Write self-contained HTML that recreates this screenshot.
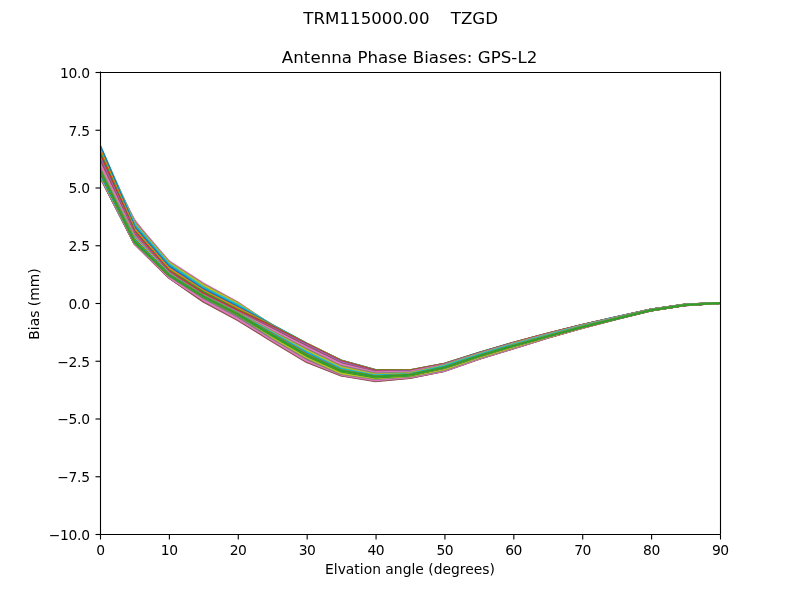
<!DOCTYPE html>
<html lang="en">
<head>
<meta charset="utf-8">
<title>TRM115000.00 TZGD - Antenna Phase Biases: GPS-L2</title>
<style>
html,body{margin:0;padding:0;background:#fff;}
body{width:800px;height:600px;overflow:hidden;}
svg{display:block;}
text{font-family:"DejaVu Sans","Liberation Sans",sans-serif;fill:#000;}
.t10{font-size:13.889px;}
.t12{font-size:16.667px;}
.ln{fill:none;stroke-width:2.0833;stroke-linejoin:round;stroke-linecap:square;}
.sp{stroke:#000;stroke-width:1.111;fill:none;stroke-linecap:square;}
.tk{stroke:#000;stroke-width:1.111;fill:none;}
</style>
</head>
<body>
<svg width="800" height="600" viewBox="0 0 800 600">
<rect x="0" y="0" width="800" height="600" fill="#ffffff"/>
<defs><clipPath id="axclip"><rect x="100" y="72" width="620" height="462"/></clipPath></defs>
<g clip-path="url(#axclip)">
<polyline class="ln" stroke="#1f77b4" points="100.00,169.95 134.44,241.10 168.89,274.80 203.33,296.40 237.78,314.15 272.22,334.80 306.67,354.90 341.11,370.60 375.56,376.60 410.00,374.75 444.44,367.60 478.89,356.10 513.33,345.70 547.78,336.20 582.22,326.90 616.67,318.40 651.11,310.20 685.56,305.00 720.00,303.00"/>
<polyline class="ln" stroke="#ff7f0e" points="100.00,170.57 134.44,241.28 168.89,274.99 203.33,296.75 237.78,314.54 272.22,335.24 306.67,355.38 341.11,370.93 375.56,376.90 410.00,374.96 444.44,367.83 478.89,356.29 513.33,345.89 547.78,336.30 582.22,326.97 616.67,318.43 651.11,310.21 685.56,305.01 720.00,303.00"/>
<polyline class="ln" stroke="#2ca02c" points="100.00,171.20 134.44,241.46 168.89,275.19 203.33,297.09 237.78,314.93 272.22,335.68 306.67,355.86 341.11,371.25 375.56,377.20 410.00,375.18 444.44,368.07 478.89,356.49 513.33,346.07 547.78,336.40 582.22,327.03 616.67,318.47 651.11,310.23 685.56,305.01 720.00,303.00"/>
<polyline class="ln" stroke="#d62728" points="100.00,171.82 134.44,241.64 168.89,275.38 203.33,297.44 237.78,315.32 272.22,336.12 306.67,356.34 341.11,371.58 375.56,377.50 410.00,375.39 444.44,368.30 478.89,356.68 513.33,346.26 547.78,336.50 582.22,327.10 616.67,318.50 651.11,310.24 685.56,305.02 720.00,303.00"/>
<polyline class="ln" stroke="#9467bd" points="100.00,172.45 134.44,241.82 168.89,275.57 203.33,297.79 237.78,315.71 272.22,336.56 306.67,356.82 341.11,371.91 375.56,377.80 410.00,375.60 444.44,368.53 478.89,356.87 513.33,346.45 547.78,336.60 582.22,327.17 616.67,318.53 651.11,310.25 685.56,305.03 720.00,303.00"/>
<polyline class="ln" stroke="#8c564b" points="100.00,173.07 134.44,242.00 168.89,275.77 203.33,298.13 237.78,316.10 272.22,337.00 306.67,357.30 341.11,372.23 375.56,378.10 410.00,375.82 444.44,368.77 478.89,357.07 513.33,346.63 547.78,336.70 582.22,327.23 616.67,318.57 651.11,310.27 685.56,305.03 720.00,303.00"/>
<polyline class="ln" stroke="#e377c2" points="100.00,173.70 134.44,242.18 168.89,275.96 203.33,298.48 237.78,316.49 272.22,337.44 306.67,357.78 341.11,372.56 375.56,378.40 410.00,376.03 444.44,369.00 478.89,357.26 513.33,346.82 547.78,336.80 582.22,327.30 616.67,318.60 651.11,310.28 685.56,305.04 720.00,303.00"/>
<polyline class="ln" stroke="#7f7f7f" points="100.00,174.32 134.44,242.36 168.89,276.15 203.33,298.83 237.78,316.88 272.22,337.88 306.67,358.26 341.11,372.89 375.56,378.70 410.00,376.24 444.44,369.23 478.89,357.45 513.33,347.01 547.78,336.90 582.22,327.37 616.67,318.63 651.11,310.29 685.56,305.05 720.00,303.00"/>
<polyline class="ln" stroke="#bcbd22" points="100.00,174.95 134.44,242.54 168.89,276.35 203.33,299.17 237.78,317.27 272.22,338.32 306.67,358.74 341.11,373.21 375.56,379.00 410.00,376.46 444.44,369.47 478.89,357.65 513.33,347.19 547.78,337.00 582.22,327.43 616.67,318.67 651.11,310.31 685.56,305.05 720.00,303.00"/>
<polyline class="ln" stroke="#17becf" points="100.00,175.27 134.44,242.72 168.89,276.54 203.33,299.52 237.78,317.66 272.22,338.76 306.67,359.22 341.11,373.54 375.56,379.30 410.00,376.67 444.44,369.70 478.89,357.84 513.33,347.38 547.78,337.10 582.22,327.50 616.67,318.70 651.11,310.32 685.56,305.06 720.00,303.00"/>
<polyline class="ln" stroke="#1f77b4" points="100.00,175.60 134.44,242.90 168.89,276.73 203.33,299.87 237.78,318.05 272.22,339.20 306.67,359.70 341.11,373.87 375.56,379.60 410.00,376.88 444.44,369.93 478.89,358.03 513.33,347.57 547.78,337.20 582.22,327.57 616.67,318.73 651.11,310.33 685.56,305.07 720.00,303.00"/>
<polyline class="ln" stroke="#ff7f0e" points="100.00,175.92 134.44,243.06 168.89,276.93 203.33,300.21 237.78,318.44 272.22,339.64 306.67,360.18 341.11,374.19 375.56,379.90 410.00,377.10 444.44,370.17 478.89,358.23 513.33,347.75 547.78,337.30 582.22,327.63 616.67,318.77 651.11,310.35 685.56,305.07 720.00,303.00"/>
<polyline class="ln" stroke="#2ca02c" points="100.00,176.25 134.44,243.22 168.89,277.12 203.33,300.56 237.78,318.83 272.22,340.08 306.67,360.66 341.11,374.52 375.56,380.20 410.00,377.31 444.44,370.40 478.89,358.42 513.33,347.94 547.78,337.40 582.22,327.70 616.67,318.80 651.11,310.36 685.56,305.08 720.00,303.00"/>
<polyline class="ln" stroke="#d62728" points="100.00,176.42 134.44,243.38 168.89,277.31 203.33,300.91 237.78,319.22 272.22,340.52 306.67,361.14 341.11,374.85 375.56,380.50 410.00,377.52 444.44,370.63 478.89,358.61 513.33,348.13 547.78,337.50 582.22,327.77 616.67,318.83 651.11,310.37 685.56,305.09 720.00,303.00"/>
<polyline class="ln" stroke="#9467bd" points="100.00,176.58 134.44,243.54 168.89,277.51 203.33,301.25 237.78,319.61 272.22,340.96 306.67,361.62 341.11,375.17 375.56,380.80 410.00,377.74 444.44,370.87 478.89,358.81 513.33,348.31 547.78,337.60 582.22,327.83 616.67,318.87 651.11,310.39 685.56,305.09 720.00,303.00"/>
<polyline class="ln" stroke="#8c564b" points="100.00,176.75 134.44,243.70 168.89,277.70 203.33,301.60 237.78,320.00 272.22,341.40 306.67,362.10 341.11,375.50 375.56,381.10 410.00,377.95 444.44,371.10 478.89,359.00 513.33,348.50 547.78,337.70 582.22,327.90 616.67,318.90 651.11,310.40 685.56,305.10 720.00,303.00"/>
<polyline class="ln" stroke="#e377c2" points="100.00,176.35 134.44,243.20 168.89,277.10 203.33,300.00 237.78,318.80 272.22,340.20 306.67,360.90 341.11,374.60 375.56,380.20 410.00,377.25 444.44,370.68 478.89,358.65 513.33,348.16 547.78,337.52 582.22,327.78 616.67,318.84 651.11,310.38 685.56,305.09 720.00,303.00"/>
<polyline class="ln" stroke="#7f7f7f" points="100.00,175.65 134.44,242.50 168.89,275.60 203.33,298.00 237.78,316.70 272.22,338.40 306.67,358.80 341.11,374.00 375.56,379.00 410.00,376.45 444.44,370.05 478.89,358.13 513.33,347.66 547.78,337.25 582.22,327.60 616.67,318.75 651.11,310.34 685.56,305.07 720.00,303.00"/>
<polyline class="ln" stroke="#bcbd22" points="100.00,174.75 134.44,241.40 168.89,275.10 203.33,296.70 237.78,314.45 272.22,337.00 306.67,357.40 341.11,373.10 375.56,378.30 410.00,375.95 444.44,369.35 478.89,357.55 513.33,347.10 547.78,336.95 582.22,327.40 616.67,318.65 651.11,310.30 685.56,305.05 720.00,303.00"/>
<polyline class="ln" stroke="#17becf" points="100.00,173.75 134.44,241.35 168.89,275.05 203.33,296.65 237.78,314.40 272.22,335.10 306.67,355.20 341.11,370.90 375.56,376.90 410.00,375.05 444.44,367.95 478.89,356.39 513.33,345.98 547.78,336.35 582.22,327.00 616.67,318.45 651.11,310.22 685.56,305.01 720.00,303.00"/>
<polyline class="ln" stroke="#1f77b4" points="100.00,172.45 134.44,241.30 168.89,275.00 203.33,296.60 237.78,314.35 272.22,335.05 306.67,355.15 341.11,370.85 375.56,376.85 410.00,375.00 444.44,367.77 478.89,356.25 513.33,345.84 547.78,336.27 582.22,326.95 616.67,318.43 651.11,310.21 685.56,305.00 720.00,303.00"/>
<polyline class="ln" stroke="#ff7f0e" points="100.00,170.25 134.44,241.25 168.89,274.95 203.33,296.55 237.78,314.30 272.22,334.99 306.67,355.09 341.11,370.79 375.56,376.79 410.00,374.94 444.44,367.72 478.89,356.20 513.33,345.80 547.78,336.25 582.22,326.94 616.67,318.42 651.11,310.21 685.56,305.00 720.00,303.00"/>
<polyline class="ln" stroke="#2ca02c" points="100.00,170.18 134.44,241.20 168.89,274.90 203.33,296.50 237.78,314.25 272.22,334.94 306.67,355.04 341.11,370.74 375.56,376.74 410.00,374.89 444.44,367.67 478.89,356.16 513.33,345.76 547.78,336.23 582.22,326.92 616.67,318.41 651.11,310.20 685.56,305.00 720.00,303.00"/>
<polyline class="ln" stroke="#d62728" points="100.00,170.12 134.44,241.15 168.89,274.85 203.33,296.45 237.78,314.20 272.22,334.88 306.67,354.98 341.11,370.68 375.56,376.68 410.00,374.83 444.44,367.62 478.89,356.11 513.33,345.71 547.78,336.21 582.22,326.90 616.67,318.40 651.11,310.20 685.56,305.00 720.00,303.00"/>
<polyline class="ln" stroke="#9467bd" points="100.00,170.05 134.44,241.10 168.89,274.80 203.33,296.40 237.78,314.15 272.22,334.83 306.67,354.93 341.11,370.63 375.56,376.63 410.00,374.78 444.44,367.56 478.89,356.07 513.33,345.67 547.78,336.19 582.22,326.89 616.67,318.40 651.11,310.20 685.56,305.00 720.00,303.00"/>
<polyline class="ln" stroke="#8c564b" points="100.00,169.98 134.44,241.05 168.89,274.75 203.33,296.35 237.78,314.10 272.22,334.77 306.67,354.87 341.11,370.57 375.56,376.57 410.00,374.72 444.44,367.51 478.89,356.03 513.33,345.63 547.78,336.16 582.22,326.88 616.67,318.39 651.11,310.19 685.56,305.00 720.00,303.00"/>
<polyline class="ln" stroke="#e377c2" points="100.00,169.92 134.44,241.00 168.89,274.70 203.33,296.30 237.78,314.05 272.22,334.72 306.67,354.82 341.11,370.52 375.56,376.52 410.00,374.67 444.44,367.46 478.89,355.98 513.33,345.59 547.78,336.14 582.22,326.86 616.67,318.38 651.11,310.19 685.56,305.00 720.00,303.00"/>
<polyline class="ln" stroke="#7f7f7f" points="100.00,169.85 134.44,240.95 168.89,274.65 203.33,296.25 237.78,314.00 272.22,334.66 306.67,354.76 341.11,370.46 375.56,376.46 410.00,374.61 444.44,367.41 478.89,355.94 513.33,345.55 547.78,336.12 582.22,326.84 616.67,318.37 651.11,310.19 685.56,304.99 720.00,303.00"/>
<polyline class="ln" stroke="#bcbd22" points="100.00,169.78 134.44,240.90 168.89,274.60 203.33,296.20 237.78,313.95 272.22,334.61 306.67,354.71 341.11,370.41 375.56,376.41 410.00,374.56 444.44,367.35 478.89,355.90 513.33,345.50 547.78,336.10 582.22,326.83 616.67,318.37 651.11,310.19 685.56,304.99 720.00,303.00"/>
<polyline class="ln" stroke="#17becf" points="100.00,169.72 134.44,240.85 168.89,274.55 203.33,296.15 237.78,313.90 272.22,334.55 306.67,354.65 341.11,370.35 375.56,376.35 410.00,374.50 444.44,367.30 478.89,355.85 513.33,345.46 547.78,336.07 582.22,326.81 616.67,318.36 651.11,310.18 685.56,304.99 720.00,303.00"/>
<polyline class="ln" stroke="#1f77b4" points="100.00,169.65 134.44,240.80 168.89,274.50 203.33,296.10 237.78,313.85 272.22,334.50 306.67,354.60 341.11,370.30 375.56,376.30 410.00,374.45 444.44,367.25 478.89,355.81 513.33,345.42 547.78,336.05 582.22,326.80 616.67,318.35 651.11,310.18 685.56,304.99 720.00,303.00"/>
<polyline class="ln" stroke="#ff7f0e" points="100.00,169.65 134.44,240.81 168.89,274.50 203.33,296.10 237.78,313.86 272.22,334.50 306.67,354.61 341.11,370.30 375.56,376.31 410.00,374.45 444.44,367.25 478.89,355.81 513.33,345.42 547.78,336.05 582.22,326.80 616.67,318.35 651.11,310.18 685.56,304.99 720.00,303.00"/>
<polyline class="ln" stroke="#2ca02c" points="100.00,169.66 134.44,240.81 168.89,274.51 203.33,296.11 237.78,313.86 272.22,334.51 306.67,354.61 341.11,370.31 375.56,376.31 410.00,374.46 444.44,367.25 478.89,355.81 513.33,345.42 547.78,336.05 582.22,326.80 616.67,318.35 651.11,310.18 685.56,304.99 720.00,303.00"/>
<polyline class="ln" stroke="#d62728" points="100.00,169.66 134.44,240.81 168.89,274.51 203.33,296.11 237.78,313.87 272.22,334.51 306.67,354.62 341.11,370.31 375.56,376.31 410.00,374.46 444.44,367.25 478.89,355.81 513.33,345.42 547.78,336.05 582.22,326.80 616.67,318.35 651.11,310.18 685.56,304.99 720.00,303.00"/>
<polyline class="ln" stroke="#9467bd" points="100.00,169.67 134.44,240.82 168.89,274.52 203.33,296.12 237.78,313.87 272.22,334.52 306.67,354.62 341.11,370.32 375.56,376.32 410.00,374.47 444.44,367.25 478.89,355.81 513.33,345.42 547.78,336.05 582.22,326.80 616.67,318.35 651.11,310.18 685.56,304.99 720.00,303.00"/>
<polyline class="ln" stroke="#8c564b" points="100.00,169.67 134.44,240.82 168.89,274.52 203.33,296.12 237.78,313.88 272.22,334.53 306.67,354.62 341.11,370.32 375.56,376.32 410.00,374.47 444.44,367.25 478.89,355.81 513.33,345.42 547.78,336.05 582.22,326.80 616.67,318.35 651.11,310.18 685.56,304.99 720.00,303.00"/>
<polyline class="ln" stroke="#e377c2" points="100.00,169.68 134.44,240.83 168.89,274.53 203.33,296.13 237.78,313.88 272.22,334.53 306.67,354.63 341.11,370.33 375.56,376.33 410.00,374.48 444.44,367.25 478.89,355.81 513.33,345.42 547.78,336.05 582.22,326.80 616.67,318.35 651.11,310.18 685.56,304.99 720.00,303.00"/>
<polyline class="ln" stroke="#7f7f7f" points="100.00,169.69 134.44,240.84 168.89,274.53 203.33,296.13 237.78,313.88 272.22,334.54 306.67,354.63 341.11,370.33 375.56,376.33 410.00,374.48 444.44,367.25 478.89,355.81 513.33,345.42 547.78,336.05 582.22,326.80 616.67,318.35 651.11,310.18 685.56,304.99 720.00,303.00"/>
<polyline class="ln" stroke="#bcbd22" points="100.00,169.69 134.44,240.84 168.89,274.54 203.33,296.14 237.78,313.89 272.22,334.54 306.67,354.64 341.11,370.34 375.56,376.34 410.00,374.49 444.44,367.25 478.89,355.81 513.33,345.42 547.78,336.05 582.22,326.80 616.67,318.35 651.11,310.18 685.56,304.99 720.00,303.00"/>
<polyline class="ln" stroke="#17becf" points="100.00,169.69 134.44,240.84 168.89,274.54 203.33,296.14 237.78,313.89 272.22,334.55 306.67,354.64 341.11,370.34 375.56,376.35 410.00,374.50 444.44,367.25 478.89,355.81 513.33,345.42 547.78,336.05 582.22,326.80 616.67,318.35 651.11,310.18 685.56,304.99 720.00,303.00"/>
<polyline class="ln" stroke="#1f77b4" points="100.00,169.70 134.44,240.85 168.89,274.55 203.33,296.15 237.78,313.90 272.22,334.55 306.67,354.65 341.11,370.35 375.56,376.35 410.00,374.50 444.44,367.25 478.89,355.81 513.33,345.42 547.78,336.05 582.22,326.80 616.67,318.35 651.11,310.18 685.56,304.99 720.00,303.00"/>
<polyline class="ln" stroke="#ff7f0e" points="100.00,169.70 134.44,240.85 168.89,274.56 203.33,296.15 237.78,313.91 272.22,334.56 306.67,354.65 341.11,370.35 375.56,376.36 410.00,374.50 444.44,367.25 478.89,355.81 513.33,345.42 547.78,336.05 582.22,326.80 616.67,318.35 651.11,310.18 685.56,304.99 720.00,303.00"/>
<polyline class="ln" stroke="#2ca02c" points="100.00,169.71 134.44,240.86 168.89,274.56 203.33,296.16 237.78,313.91 272.22,334.56 306.67,354.66 341.11,370.36 375.56,376.36 410.00,374.51 444.44,367.25 478.89,355.81 513.33,345.42 547.78,336.05 582.22,326.80 616.67,318.35 651.11,310.18 685.56,304.99 720.00,303.00"/>
<polyline class="ln" stroke="#d62728" points="100.00,169.71 134.44,240.87 168.89,274.56 203.33,296.16 237.78,313.92 272.22,334.56 306.67,354.67 341.11,370.36 375.56,376.37 410.00,374.51 444.44,367.25 478.89,355.81 513.33,345.42 547.78,336.05 582.22,326.80 616.67,318.35 651.11,310.18 685.56,304.99 720.00,303.00"/>
<polyline class="ln" stroke="#9467bd" points="100.00,169.72 134.44,240.87 168.89,274.57 203.33,296.17 237.78,313.92 272.22,334.57 306.67,354.67 341.11,370.37 375.56,376.37 410.00,374.52 444.44,367.25 478.89,355.81 513.33,345.42 547.78,336.05 582.22,326.80 616.67,318.35 651.11,310.18 685.56,304.99 720.00,303.00"/>
<polyline class="ln" stroke="#8c564b" points="100.00,169.72 134.44,240.88 168.89,274.57 203.33,296.17 237.78,313.93 272.22,334.57 306.67,354.68 341.11,370.38 375.56,376.38 410.00,374.52 444.44,367.25 478.89,355.81 513.33,345.42 547.78,336.05 582.22,326.80 616.67,318.35 651.11,310.18 685.56,304.99 720.00,303.00"/>
<polyline class="ln" stroke="#e377c2" points="100.00,169.73 134.44,240.88 168.89,274.58 203.33,296.18 237.78,313.93 272.22,334.58 306.67,354.68 341.11,370.38 375.56,376.38 410.00,374.53 444.44,367.25 478.89,355.81 513.33,345.42 547.78,336.05 582.22,326.80 616.67,318.35 651.11,310.18 685.56,304.99 720.00,303.00"/>
<polyline class="ln" stroke="#7f7f7f" points="100.00,169.73 134.44,240.88 168.89,274.58 203.33,296.19 237.78,313.94 272.22,334.59 306.67,354.69 341.11,370.38 375.56,376.38 410.00,374.53 444.44,367.25 478.89,355.81 513.33,345.42 547.78,336.05 582.22,326.80 616.67,318.35 651.11,310.18 685.56,304.99 720.00,303.00"/>
<polyline class="ln" stroke="#bcbd22" points="100.00,169.74 134.44,240.89 168.89,274.59 203.33,296.19 237.78,313.94 272.22,334.59 306.67,354.69 341.11,370.39 375.56,376.39 410.00,374.54 444.44,367.25 478.89,355.81 513.33,345.42 547.78,336.05 582.22,326.80 616.67,318.35 651.11,310.18 685.56,304.99 720.00,303.00"/>
<polyline class="ln" stroke="#17becf" points="100.00,169.75 134.44,240.90 168.89,274.59 203.33,296.19 237.78,313.94 272.22,334.60 306.67,354.69 341.11,370.39 375.56,376.39 410.00,374.54 444.44,367.25 478.89,355.81 513.33,345.42 547.78,336.05 582.22,326.80 616.67,318.35 651.11,310.18 685.56,304.99 720.00,303.00"/>
<polyline class="ln" stroke="#1f77b4" points="100.00,169.75 134.44,240.90 168.89,274.60 203.33,296.20 237.78,313.95 272.22,334.60 306.67,354.70 341.11,370.40 375.56,376.40 410.00,374.55 444.44,367.25 478.89,355.81 513.33,345.42 547.78,336.05 582.22,326.80 616.67,318.35 651.11,310.18 685.56,304.99 720.00,303.00"/>
<polyline class="ln" stroke="#ff7f0e" points="100.00,169.75 134.44,240.90 168.89,274.60 203.33,296.20 237.78,313.95 272.22,334.60 306.67,354.70 341.11,370.40 375.56,376.40 410.00,374.55 444.44,367.34 478.89,355.88 513.33,345.49 547.78,336.09 582.22,326.82 616.67,318.36 651.11,310.19 685.56,304.99 720.00,303.00"/>
<polyline class="ln" stroke="#2ca02c" points="100.00,169.75 134.44,241.90 168.89,275.20 203.33,296.80 237.78,314.55 272.22,335.60 306.67,355.70 341.11,371.40 375.56,377.40 410.00,375.55 444.44,367.43 478.89,355.95 513.33,345.56 547.78,336.12 582.22,326.85 616.67,318.38 651.11,310.19 685.56,305.00 720.00,303.00"/>
<polyline class="ln" stroke="#d62728" points="100.00,165.45 134.44,234.77 168.89,271.70 203.33,293.45 237.78,311.49 272.22,333.20 306.67,353.02 341.11,369.02 375.56,375.80 410.00,374.40 444.44,366.64 478.89,355.29 513.33,344.96 547.78,335.57 582.22,326.44 616.67,318.11 651.11,310.04 685.56,304.91 720.00,303.00"/>
<polyline class="ln" stroke="#9467bd" points="100.00,160.45 134.44,227.63 168.89,268.20 203.33,290.10 237.78,308.43 272.22,330.80 306.67,350.35 341.11,366.65 375.56,374.20 410.00,373.25 444.44,365.85 478.89,354.62 513.33,344.35 547.78,335.01 582.22,326.02 616.67,317.84 651.11,309.90 685.56,304.83 720.00,303.00"/>
<polyline class="ln" stroke="#8c564b" points="100.00,155.45 134.44,220.50 168.89,264.70 203.33,286.75 237.78,305.36 272.22,328.40 306.67,347.68 341.11,364.27 375.56,372.60 410.00,372.10 444.44,365.07 478.89,353.96 513.33,343.75 547.78,334.46 582.22,325.61 616.67,317.56 651.11,309.75 685.56,304.74 720.00,303.00"/>
<polyline class="ln" stroke="#e377c2" points="100.00,150.45 134.44,221.00 168.89,261.20 203.33,283.40 237.78,302.30 272.22,326.00 306.67,345.00 341.11,361.90 375.56,371.00 410.00,370.95 444.44,364.28 478.89,353.30 513.33,343.15 547.78,333.90 582.22,325.20 616.67,317.30 651.11,309.61 685.56,304.66 720.00,303.00"/>
<polyline class="ln" stroke="#7f7f7f" points="100.00,147.95 134.44,222.10 168.89,262.00 203.33,284.30 237.78,302.90 272.22,325.60 306.67,344.50 341.11,361.40 375.56,370.70 410.00,370.65 444.44,364.09 478.89,353.13 513.33,343.00 547.78,333.77 582.22,325.10 616.67,317.23 651.11,309.57 685.56,304.64 720.00,303.00"/>
<polyline class="ln" stroke="#bcbd22" points="100.00,146.45 134.44,223.40 168.89,262.70 203.33,285.20 237.78,303.50 272.22,325.20 306.67,344.00 341.11,360.90 375.56,370.40 410.00,370.45 444.44,363.89 478.89,352.97 513.33,342.85 547.78,333.63 582.22,325.00 616.67,317.17 651.11,309.54 685.56,304.62 720.00,303.00"/>
<polyline class="ln" stroke="#17becf" points="100.00,145.45 134.44,224.70 168.89,264.20 203.33,287.40 237.78,305.00 272.22,324.80 306.67,343.50 341.11,360.40 375.56,370.00 410.00,370.15 444.44,363.70 478.89,352.80 513.33,342.70 547.78,333.50 582.22,324.90 616.67,317.10 651.11,309.50 685.56,304.60 720.00,303.00"/>
<polyline class="ln" stroke="#1f77b4" points="100.00,145.95 134.44,226.70 168.89,266.20 203.33,289.00 237.78,306.80 272.22,325.20 306.67,343.65 341.11,360.55 375.56,370.10 410.00,370.25 444.44,363.78 478.89,352.87 513.33,342.76 547.78,333.55 582.22,324.94 616.67,317.13 651.11,309.51 685.56,304.61 720.00,303.00"/>
<polyline class="ln" stroke="#ff7f0e" points="100.00,149.35 134.44,229.00 168.89,268.50 203.33,290.60 237.78,308.30 272.22,325.60 306.67,343.80 341.11,360.70 375.56,370.20 410.00,370.35 444.44,363.86 478.89,352.93 513.33,342.82 547.78,333.61 582.22,324.98 616.67,317.15 651.11,309.53 685.56,304.62 720.00,303.00"/>
<polyline class="ln" stroke="#2ca02c" points="100.00,151.95 134.44,230.60 168.89,270.20 203.33,292.00 237.78,309.80 272.22,326.20 306.67,344.00 341.11,360.90 375.56,370.40 410.00,370.45 444.44,363.97 478.89,353.03 513.33,342.91 547.78,333.69 582.22,325.04 616.67,317.19 651.11,309.55 685.56,304.63 720.00,303.00"/>
<polyline class="ln" stroke="#d62728" points="100.00,154.55 134.44,231.70 168.89,271.20 203.33,293.60 237.78,310.70 272.22,326.60 306.67,344.30 341.11,361.20 375.56,370.80 410.00,370.75 444.44,364.13 478.89,353.16 513.33,343.03 547.78,333.80 582.22,325.12 616.67,317.24 651.11,309.58 685.56,304.64 720.00,303.00"/>
<polyline class="ln" stroke="#9467bd" points="100.00,157.35 134.44,233.30 168.89,272.20 203.33,294.80 237.78,311.90 272.22,327.60 306.67,345.00 341.11,361.90 375.56,371.50 410.00,371.15 444.44,364.32 478.89,353.33 513.33,343.18 547.78,333.93 582.22,325.22 616.67,317.31 651.11,309.61 685.56,304.66 720.00,303.00"/>
<polyline class="ln" stroke="#8c564b" points="100.00,160.35 134.44,234.50 168.89,272.70 203.33,295.20 237.78,312.20 272.22,328.80 306.67,346.50 341.11,363.40 375.56,372.00 410.00,371.55 444.44,364.56 478.89,353.53 513.33,343.36 547.78,334.09 582.22,325.34 616.67,317.39 651.11,309.65 685.56,304.69 720.00,303.00"/>
<polyline class="ln" stroke="#e377c2" points="100.00,163.35 134.44,235.70 168.89,273.20 203.33,295.50 237.78,312.50 272.22,329.80 306.67,347.40 341.11,364.30 375.56,372.40 410.00,371.85 444.44,364.79 478.89,353.72 513.33,343.54 547.78,334.26 582.22,325.46 616.67,317.46 651.11,309.70 685.56,304.71 720.00,303.00"/>
<polyline class="ln" stroke="#7f7f7f" points="100.00,168.75 134.44,236.90 168.89,273.60 203.33,295.70 237.78,312.80 272.22,331.40 306.67,349.20 341.11,366.10 375.56,373.60 410.00,372.65 444.44,365.10 478.89,353.99 513.33,343.78 547.78,334.47 582.22,325.62 616.67,317.57 651.11,309.75 685.56,304.74 720.00,303.00"/>
<polyline class="ln" stroke="#bcbd22" points="100.00,168.55 134.44,237.90 168.89,273.90 203.33,295.90 237.78,313.10 272.22,332.20 306.67,350.40 341.11,367.30 375.56,374.50 410.00,373.35 444.44,365.49 478.89,354.32 513.33,344.08 547.78,334.74 582.22,325.82 616.67,317.70 651.11,309.82 685.56,304.78 720.00,303.00"/>
<polyline class="ln" stroke="#17becf" points="100.00,168.95 134.44,238.90 168.89,274.20 203.33,296.10 237.78,313.40 272.22,333.00 306.67,352.20 341.11,368.80 375.56,375.40 410.00,373.95 444.44,365.96 478.89,354.71 513.33,344.44 547.78,335.07 582.22,326.06 616.67,317.85 651.11,309.91 685.56,304.83 720.00,303.00"/>
<polyline class="ln" stroke="#1f77b4" points="100.00,169.35 134.44,239.80 168.89,274.50 203.33,296.20 237.78,313.70 272.22,334.00 306.67,353.70 341.11,370.00 375.56,376.20 410.00,374.45 444.44,367.21 478.89,355.77 513.33,345.40 547.78,335.93 582.22,326.70 616.67,318.27 651.11,310.13 685.56,304.96 720.00,303.00"/>
<polyline class="ln" stroke="#ff7f0e" points="100.00,169.65 134.44,240.50 168.89,274.70 203.33,296.30 237.78,314.00 272.22,334.40 306.67,354.50 341.11,370.40 375.56,376.50 410.00,374.65 444.44,367.48 478.89,356.00 513.33,345.61 547.78,336.12 582.22,326.84 616.67,318.36 651.11,310.18 685.56,304.99 720.00,303.00"/>
<polyline class="ln" stroke="#2ca02c" points="100.00,169.95 134.44,241.10 168.89,274.80 203.33,296.40 237.78,314.15 272.22,334.80 306.67,354.90 341.11,370.60 375.56,376.60 410.00,374.75 444.44,367.60 478.89,356.10 513.33,345.70 547.78,336.20 582.22,326.90 616.67,318.40 651.11,310.20 685.56,305.00 720.00,303.00"/>
</g>
<g class="tk">
<line x1="100.50" y1="534.5" x2="100.50" y2="539.5"/>
<line x1="169.39" y1="534.5" x2="169.39" y2="539.5"/>
<line x1="238.28" y1="534.5" x2="238.28" y2="539.5"/>
<line x1="307.17" y1="534.5" x2="307.17" y2="539.5"/>
<line x1="376.06" y1="534.5" x2="376.06" y2="539.5"/>
<line x1="444.94" y1="534.5" x2="444.94" y2="539.5"/>
<line x1="513.83" y1="534.5" x2="513.83" y2="539.5"/>
<line x1="582.72" y1="534.5" x2="582.72" y2="539.5"/>
<line x1="651.61" y1="534.5" x2="651.61" y2="539.5"/>
<line x1="720.50" y1="534.5" x2="720.50" y2="539.5"/>
<line x1="95.5" y1="534.50" x2="100.5" y2="534.50"/>
<line x1="95.5" y1="476.75" x2="100.5" y2="476.75"/>
<line x1="95.5" y1="419.00" x2="100.5" y2="419.00"/>
<line x1="95.5" y1="361.25" x2="100.5" y2="361.25"/>
<line x1="95.5" y1="303.50" x2="100.5" y2="303.50"/>
<line x1="95.5" y1="245.75" x2="100.5" y2="245.75"/>
<line x1="95.5" y1="188.00" x2="100.5" y2="188.00"/>
<line x1="95.5" y1="130.25" x2="100.5" y2="130.25"/>
<line x1="95.5" y1="72.50" x2="100.5" y2="72.50"/>
</g>
<path class="sp" d="M100.50 72V534M720.50 72V534M100 534.50H720M100 72.50H720"/>
<g class="t10" text-anchor="middle" letter-spacing="-0.5">
<text x="100.30" y="555.48">0</text>
<text x="169.19" y="555.48">10</text>
<text x="238.08" y="555.48">20</text>
<text x="306.97" y="555.48">30</text>
<text x="375.86" y="555.48">40</text>
<text x="444.74" y="555.48">50</text>
<text x="513.63" y="555.48">60</text>
<text x="582.52" y="555.48">70</text>
<text x="651.41" y="555.48">80</text>
<text x="720.30" y="555.48">90</text>
</g>
<g class="t10" text-anchor="end" letter-spacing="-0.3">
<text x="89.68" y="539.88">−10.0</text>
<text x="89.68" y="482.13">−7.5</text>
<text x="89.68" y="424.38">−5.0</text>
<text x="89.68" y="366.63">−2.5</text>
<text x="89.68" y="308.88">0.0</text>
<text x="89.68" y="251.13">2.5</text>
<text x="89.68" y="193.38">5.0</text>
<text x="89.68" y="135.63">7.5</text>
<text x="89.68" y="77.88">10.0</text>
</g>
<text class="t10" text-anchor="middle" x="410" y="574.47">Elvation angle (degrees)</text>
<text class="t10" text-anchor="middle" transform="translate(39.27 304.00) rotate(-90)">Bias (mm)</text>
<text class="t12" text-anchor="middle" x="409.60" y="63.37" letter-spacing="0.035">Antenna Phase Biases: GPS-L2</text>
<text class="t12" text-anchor="middle" x="400.70" y="23.66" xml:space="preserve" style="white-space:pre">TRM115000.00    TZGD</text>
</svg>
</body>
</html>
